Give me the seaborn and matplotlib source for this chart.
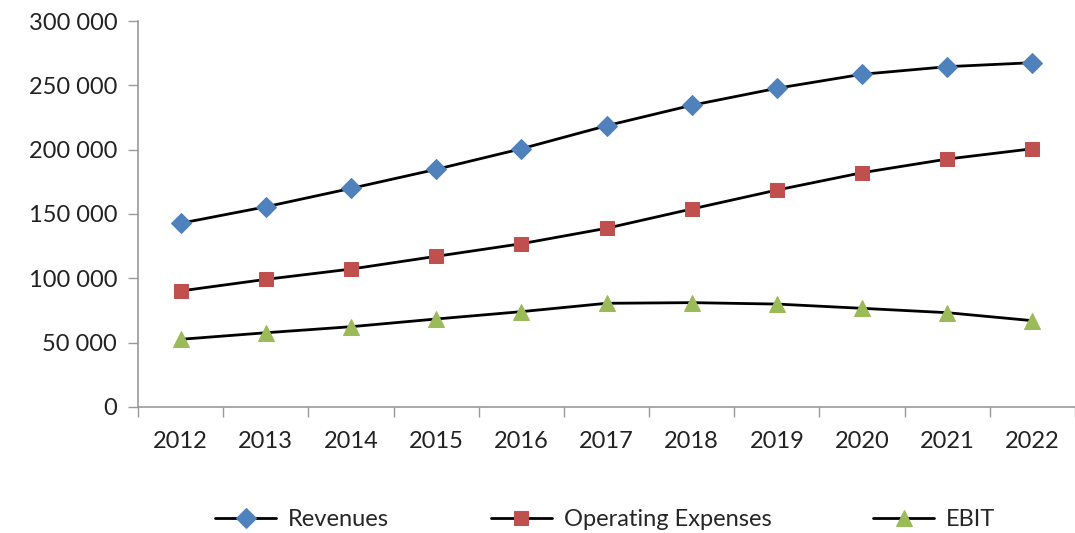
import matplotlib.pyplot as plt
import matplotlib.ticker as mticker
import pandas as pd
import seaborn as sns

years = ["2012", "2013", "2014", "2015", "2016", "2017", "2018", "2019", "2020", "2021", "2022"]
revenues = [142800, 155600, 169900, 184700, 200700, 218600, 234500, 247700, 258600, 264500, 267600]
opex = [90200, 99200, 107200, 117100, 126900, 138900, 153900, 168600, 182100, 192700, 200700]
ebit = [52600, 57700, 62400, 68400, 74100, 80600, 81100, 80000, 76700, 73300, 67100]

series_names = ["Revenues", "Operating Expenses", "EBIT"]
series_values = [revenues, opex, ebit]
marker_colors = ["#4F81BD", "#C0504D", "#9BBB59"]
markers = ["D", "s", "^"]
marker_sizes = [10, 10, 11]

sns.set_style("white")
plt.rcParams["font.family"] = ["Lato", "DejaVu Sans"]

fig = plt.figure(figsize=(10.75, 5.33), dpi=100)
ax = fig.add_axes([0.1284, 0.2364, 0.8716, 0.7242])

for name, vals, col, mk, ms in zip(series_names, series_values, marker_colors, markers, marker_sizes):
    df = pd.DataFrame({"year": years, "value": vals})
    sns.lineplot(
        data=df, x="year", y="value", ax=ax, color="black", linewidth=2,
        marker=mk, markersize=ms, markerfacecolor=col, markeredgecolor=col,
        label=name,
    )

ax.set_xlim(-0.5, len(years) - 0.5)
ax.set_ylim(0, 300000)
ax.set_xlabel("")
ax.set_ylabel("")

ax.yaxis.set_major_locator(mticker.MultipleLocator(50000))
ax.yaxis.set_major_formatter(
    mticker.FuncFormatter(lambda v, p: f"{int(v):,}".replace(",", " "))
)
ax.xaxis.set_major_locator(mticker.FixedLocator(range(len(years))))
ax.set_xticklabels(years)
ax.xaxis.set_minor_locator(mticker.FixedLocator([i - 0.5 for i in range(len(years) + 1)]))

ax.tick_params(axis="both", which="both", bottom=True, left=True)
ax.tick_params(axis="x", which="major", length=0, pad=17, labelsize=17, labelcolor="#222222")
ax.tick_params(axis="x", which="minor", length=7, width=1, color="#999999", direction="out")
ax.tick_params(axis="y", which="major", length=7, width=1, color="#999999", direction="out",
               labelsize=17, labelcolor="#222222", pad=8)

for side in ["top", "right"]:
    ax.spines[side].set_visible(False)
for side in ["left", "bottom"]:
    ax.spines[side].set_color("#999999")
    ax.spines[side].set_linewidth(1.2)
ax.grid(False)

ax.legend_.remove()
handles, labels = ax.get_legend_handles_labels()
fig.legend(
    handles, labels, loc="lower center", bbox_to_anchor=(0.563, -0.035), ncol=3,
    frameon=False, fontsize=17, handlelength=2.6, columnspacing=4.3, handletextpad=0.5,
)

fig.savefig("out.png", dpi=100)
